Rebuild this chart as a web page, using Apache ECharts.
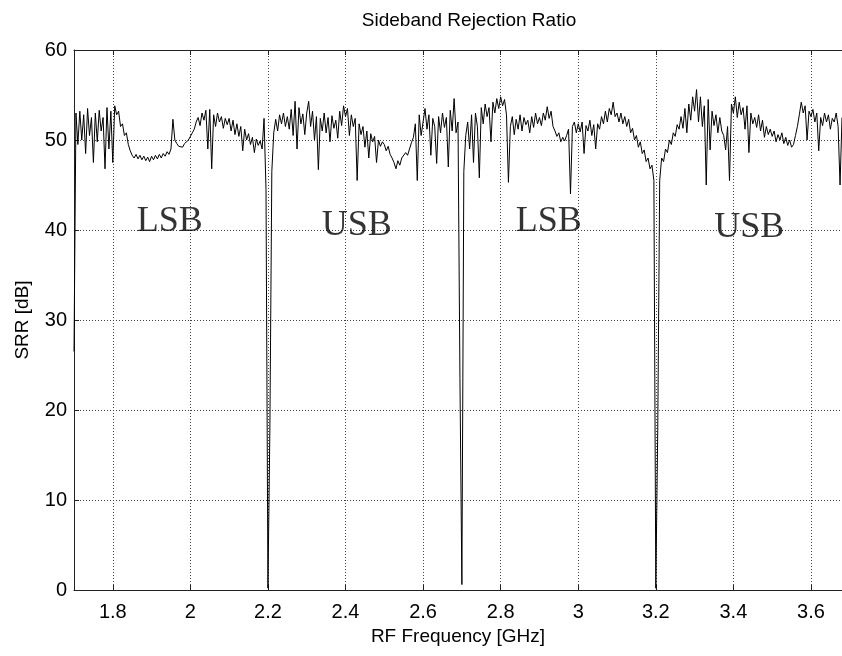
<!DOCTYPE html>
<html>
<head>
<meta charset="utf-8">
<script src="https://cdn.jsdelivr.net/npm/echarts@6/dist/echarts.min.js"></script>
<style>
  html, body { margin: 0; padding: 0; background: #fff; }
  #chart { width: 842px; height: 656px; }
</style>
</head>
<body>
<div id="chart"></div>
<script>
// Sampling grid of the measured sweep (GHz)
const freqStart = 1.7;
const freqStep = 0.005;

// Sideband rejection ratio in dB, one array per sideband segment
const srrLSB1 = [
  26.5, 53.0, 49.5, 53.2, 50.0, 52.8, 48.5, 53.5, 50.5, 52.5, 47.5, 53.0, 49.8, 53.3, 51.0, 52.5, 46.8, 53.6, 49.0, 53.2,
  47.5, 53.8, 52.8, 53.2, 51.5, 51.8, 50.5, 50.8, 49.5, 48.8, 48.3, 48.0, 48.4, 47.9, 48.3, 47.8, 48.2, 47.7, 48.1, 47.6,
  48.2, 47.8, 48.3, 47.9, 48.4, 48.0, 48.5, 48.2, 48.7, 48.4, 49.0, 52.3, 50.0, 49.6, 49.3, 49.5, 49.2, 49.6, 49.7, 50.0,
  50.2, 50.8, 51.2, 52.0, 52.5, 51.6, 53.0, 52.2, 53.3, 49.0, 53.4, 46.8, 52.8, 51.5, 53.0, 52.0, 52.6, 51.3, 52.4, 51.7,
  52.4, 51.0, 52.2, 50.6, 51.8, 50.4, 51.5, 48.8, 51.2, 50.0, 50.7, 49.5, 50.3, 48.6, 50.1, 49.4, 49.9, 49.0, 52.4, 44.5
];
const srrUSB1 = [
  0.2, 18.0, 46.5, 50.8, 52.3, 51.0, 52.8, 51.8, 53.0, 51.5, 52.6, 51.2, 53.4, 50.5, 54.3, 49.0, 53.6, 51.8, 52.9, 50.6,
  53.0, 54.3, 51.5, 53.2, 50.0, 52.6, 46.7, 52.4, 51.0, 53.0, 50.8, 52.5, 49.8, 52.7, 51.3, 52.2, 50.2, 53.2, 51.6, 53.8,
  52.6, 53.5, 50.5, 52.8, 51.5, 52.4, 45.5, 51.8, 50.6, 51.5, 49.2, 51.0, 48.0, 50.7, 49.8, 50.4, 47.5, 50.0, 49.3, 49.8,
  49.5, 48.8, 49.3, 48.4, 48.0, 47.5, 46.8, 47.7, 47.2, 48.0, 47.8, 48.6, 48.3, 49.0, 49.7, 50.3, 51.8, 45.5, 52.8, 50.5,
  52.0, 53.5, 51.2, 52.8, 48.3, 52.4, 51.5, 47.4, 52.6, 50.8, 53.0, 51.4, 52.5, 47.0, 53.3, 51.0, 54.6, 50.8, 52.0, 23.5
];
const srrLSB2 = [
  0.6, 46.5, 50.5, 52.0, 49.0, 52.8, 47.5, 53.0, 51.5, 45.8, 53.6, 51.8, 54.0, 52.6, 53.6, 49.8, 54.2, 53.0, 54.6, 53.5,
  54.8, 53.8, 54.5, 52.8, 45.3, 51.5, 52.6, 50.6, 52.3, 51.2, 52.8, 51.0, 52.5, 51.7, 52.2, 50.8, 52.6, 51.4, 53.0, 51.8,
  52.5, 51.6, 53.0, 52.2, 53.7, 52.4, 53.2, 51.5, 51.0, 50.4, 50.8, 49.8, 50.3, 49.9, 50.5, 51.2, 44.0, 51.5, 52.0, 50.8,
  51.8, 50.9, 52.0, 48.5, 51.6, 51.0, 52.2, 50.5, 51.7, 49.0, 51.8, 51.2, 52.6, 51.8, 53.2, 52.0, 53.5, 52.8, 54.2, 52.6,
  53.0, 52.0, 53.0, 51.8, 52.6, 51.5, 52.3, 50.8, 51.3, 50.0, 50.5, 49.2, 49.8, 48.5, 48.9, 47.6, 48.0, 46.8, 47.2, 45.5
];
const srrUSB2 = [
  0.2, 18.0, 45.5, 48.0, 47.6, 49.0, 48.6, 50.0, 49.5, 50.8, 50.4, 51.7, 51.2, 52.6, 51.3, 53.5, 50.8, 54.0, 52.2, 54.8,
  53.2, 55.6, 52.0, 54.8, 51.5, 53.8, 45.0, 54.5, 48.9, 53.2, 51.6, 52.8, 50.8, 52.5, 51.0, 50.5, 48.9, 51.5, 45.5, 54.0,
  53.0, 54.8, 52.5, 54.2, 52.8, 53.6, 51.2, 53.8, 48.6, 53.0, 51.8, 52.5, 51.4, 52.8, 51.0, 52.2, 50.3, 51.5, 50.6, 51.2,
  50.4, 51.0, 49.8, 50.6, 50.0, 50.8, 49.6, 50.3, 49.4, 50.0, 49.2, 49.5, 50.5, 51.5, 52.8, 54.2, 53.0, 53.8, 50.0, 53.2,
  52.6, 53.4, 52.0, 53.0, 48.8, 52.5, 51.6, 53.0, 52.0, 52.8, 51.2, 52.4, 52.0, 53.0, 51.5, 45.0, 52.5
];

// Sideband annotations placed in data coordinates
const bandNames = ['LSB', 'USB', 'LSB', 'USB'];
const bandLabelFreq = [1.947, 2.429, 2.924, 3.441];
const bandLabelSRR = [40.9, 40.5, 40.9, 40.3];

const srrAll = srrLSB1.concat(srrUSB1, srrLSB2, srrUSB2);
const sweep = srrAll.map((v, i) => [+(freqStart + i * freqStep).toFixed(3), v]);
const annotations = bandNames.map((n, i) => [bandLabelFreq[i], bandLabelSRR[i], n]);

const sans = 'Liberation Sans, Arial, Helvetica, sans-serif';
const dotted = { color: '#444', width: 1, type: [1, 2] };
const frame = { show: true, lineStyle: { color: '#222', width: 1 } };

const chart = echarts.init(document.getElementById('chart'), null, { renderer: 'canvas' });
chart.setOption({
  animation: false,
  backgroundColor: '#fff',
  title: {
    text: 'Sideband Rejection Ratio',
    left: 464,
    top: 6,
    textAlign: 'center',
    textStyle: { fontFamily: sans, fontSize: 19, fontWeight: 'normal', color: '#000' }
  },
  grid: { left: 74, top: 50, width: 769, height: 540, containLabel: false },
  xAxis: [
    {
      type: 'value', position: 'bottom',
      min: 1.7, max: 3.68, splitNumber: 10, minInterval: 0.2, maxInterval: 0.2,
      name: 'RF Frequency [GHz]', nameLocation: 'middle', nameGap: 36,
      nameTextStyle: { fontFamily: sans, fontSize: 19, color: '#000' },
      axisLine: frame,
      axisTick: { show: true, inside: true, length: 5, lineStyle: { color: '#222' } },
      axisLabel: { fontFamily: sans, fontSize: 20, color: '#000', margin: 12, showMinLabel: false, showMaxLabel: false },
      splitLine: { show: true, lineStyle: dotted }
    },
    {
      type: 'value', position: 'top',
      min: 1.7, max: 3.68, splitNumber: 10, minInterval: 0.2, maxInterval: 0.2,
      axisLine: frame,
      axisTick: { show: true, inside: true, length: 5, lineStyle: { color: '#222' } },
      axisLabel: { show: false },
      splitLine: { show: false }
    }
  ],
  yAxis: {
    type: 'value', min: 0, max: 60, interval: 10,
    name: 'SRR [dB]', nameLocation: 'middle', nameGap: 42,
    nameTextStyle: { fontFamily: sans, fontSize: 19, color: '#000' },
    axisLine: frame,
    axisTick: { show: true, inside: true, length: 5, lineStyle: { color: '#222' } },
    axisLabel: { fontFamily: sans, fontSize: 20, color: '#000', margin: 7 },
    splitLine: { show: true, lineStyle: dotted }
  },
  series: [
    {
      type: 'line',
      data: sweep,
      xAxisIndex: 0,
      showSymbol: false,
      symbol: 'none',
      lineStyle: { color: '#000', width: 1 },
      clip: true,
      z: 3
    },
    {
      type: 'scatter',
      data: annotations,
      xAxisIndex: 0,
      symbolSize: 0,
      silent: true,
      label: {
        show: true,
        position: 'inside',
        formatter: p => p.value[2],
        fontFamily: 'Liberation Serif, Times New Roman, serif',
        fontSize: 36,
        color: '#000',
        textBorderWidth: 0
      },
      z: 4
    }
  ]
});
</script>
</body>
</html>
